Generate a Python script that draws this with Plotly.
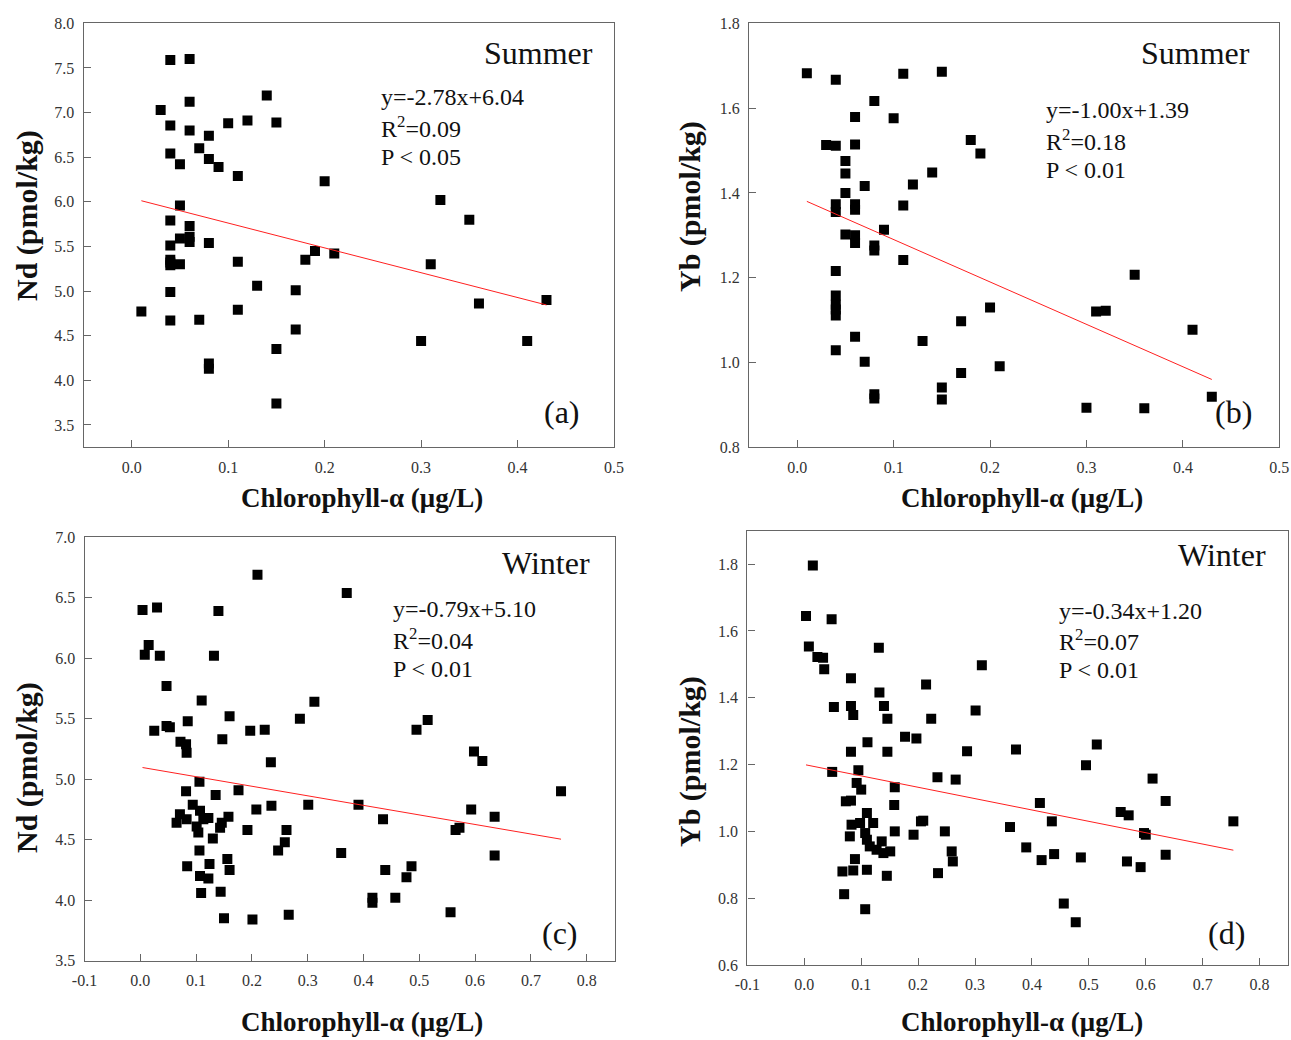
import plotly.graph_objects as go

# ---------------- data ----------------
# (a) Summer Nd vs Chlorophyll-a
a_x = [0.04, 0.06, 0.03, 0.06, 0.14, 0.04, 0.06, 0.08, 0.10, 0.12, 0.15, 0.07, 0.04, 0.08,
       0.05, 0.09, 0.11, 0.20, 0.05, 0.04, 0.06, 0.05, 0.06, 0.06, 0.08, 0.04, 0.04, 0.04,
       0.05, 0.04, 0.11, 0.18, 0.19, 0.21, 0.13, 0.17, 0.04, 0.01, 0.11, 0.04, 0.07, 0.17,
       0.15, 0.08, 0.08, 0.15, 0.32, 0.35, 0.31, 0.36, 0.43, 0.30, 0.41]
a_y = [7.59, 7.60, 7.03, 7.12, 7.19, 6.855, 6.80, 6.74, 6.88, 6.91, 6.89, 6.60, 6.54, 6.48,
       6.42, 6.39, 6.29, 6.23, 5.96, 5.79, 5.73, 5.59, 5.61, 5.55, 5.54, 5.51, 5.35, 5.29,
       5.30, 5.32, 5.33, 5.35, 5.45, 5.42, 5.06, 5.01, 4.99, 4.77, 4.79, 4.67, 4.68, 4.57,
       4.35, 4.19, 4.13, 3.74, 6.02, 5.80, 5.30, 4.86, 4.90, 4.44, 4.44]

# (b) Summer Yb vs Chlorophyll-a
b_x = [0.01, 0.04, 0.11, 0.15, 0.08, 0.06, 0.10, 0.03, 0.04, 0.06, 0.18, 0.19, 0.05, 0.05,
       0.14, 0.07, 0.12, 0.05, 0.04, 0.04, 0.06, 0.06, 0.11, 0.09, 0.05, 0.06, 0.06, 0.08,
       0.08, 0.11, 0.04, 0.04, 0.04, 0.04, 0.04, 0.20, 0.17, 0.06, 0.13, 0.04, 0.07, 0.21,
       0.17, 0.15, 0.15, 0.08, 0.08, 0.35, 0.31, 0.32, 0.41, 0.43, 0.30, 0.36]
b_y = [1.682, 1.667, 1.681, 1.686, 1.617, 1.579, 1.576, 1.513, 1.511, 1.514, 1.525, 1.493,
       1.475, 1.446, 1.448, 1.416, 1.420, 1.400, 1.373, 1.355, 1.373, 1.360, 1.370, 1.313,
       1.302, 1.300, 1.282, 1.276, 1.264, 1.242, 1.216, 1.158, 1.136, 1.111, 1.125, 1.130,
       1.097, 1.061, 1.051, 1.029, 1.002, 0.991, 0.975, 0.941, 0.913, 0.925, 0.915, 1.207,
       1.120, 1.122, 1.077, 0.919, 0.893, 0.892]

# (c) Winter Nd vs Chlorophyll-a
c_x = [0.004, 0.03, 0.14, 0.21, 0.37, 0.015, 0.008, 0.035, 0.132, 0.047, 0.11, 0.312, 0.286,
       0.16, 0.025, 0.047, 0.053, 0.085, 0.197, 0.223, 0.147, 0.072, 0.082, 0.083, 0.234,
       0.106, 0.082, 0.176, 0.135, 0.208, 0.235, 0.301, 0.094, 0.071, 0.107, 0.065, 0.083,
       0.113, 0.122, 0.101, 0.104, 0.158, 0.146, 0.143, 0.13, 0.192, 0.262, 0.259, 0.247,
       0.106, 0.084, 0.124, 0.156, 0.16, 0.107, 0.122, 0.109, 0.144, 0.15, 0.201, 0.266,
       0.36, 0.495, 0.515, 0.598, 0.613, 0.754, 0.391, 0.435, 0.593, 0.635, 0.565, 0.572,
       0.635, 0.439, 0.486, 0.477, 0.416, 0.416, 0.457, 0.556]
c_y = [6.40, 6.42, 6.39, 6.69, 6.54, 6.11, 6.03, 6.02, 6.02, 5.77, 5.65, 5.64, 5.50,
       5.52, 5.40, 5.44, 5.43, 5.48, 5.40, 5.41, 5.33, 5.31, 5.29, 5.22, 5.14,
       4.98, 4.90, 4.91, 4.87, 4.75, 4.78, 4.79, 4.79, 4.71, 4.74, 4.64, 4.67,
       4.67, 4.68, 4.61, 4.56, 4.69, 4.64, 4.60, 4.51, 4.58, 4.58, 4.48, 4.41,
       4.41, 4.28, 4.30, 4.34, 4.25, 4.20, 4.18, 4.06, 4.07, 3.85, 3.84, 3.88,
       4.39, 5.41, 5.49, 5.23, 5.15, 4.90, 4.79, 4.67, 4.75, 4.69, 4.58, 4.60,
       4.37, 4.25, 4.28, 4.19, 4.02, 3.98, 4.02, 3.90]

# (d) Winter Yb vs Chlorophyll-a
d_x = [0.015, 0.003, 0.048, 0.008, 0.131, 0.023, 0.033, 0.035, 0.082, 0.312, 0.214, 0.132,
       0.052, 0.082, 0.086, 0.14, 0.146, 0.223, 0.301, 0.177, 0.197, 0.111, 0.082, 0.146,
       0.286, 0.049, 0.095, 0.092, 0.10, 0.234, 0.266, 0.159, 0.073, 0.082, 0.158, 0.11,
       0.205, 0.209, 0.083, 0.098, 0.121, 0.08, 0.107, 0.11, 0.115, 0.127, 0.136, 0.139,
       0.151, 0.159, 0.192, 0.247, 0.259, 0.261, 0.089, 0.086, 0.067, 0.11, 0.145, 0.235,
       0.07, 0.107, 0.372, 0.514, 0.495, 0.612, 0.414, 0.635, 0.556, 0.57, 0.435, 0.754,
       0.3615, 0.597, 0.60, 0.39, 0.417, 0.439, 0.486, 0.567, 0.591, 0.635, 0.456, 0.477]
d_y = [1.796, 1.645, 1.635, 1.553, 1.55, 1.522, 1.52, 1.485, 1.458, 1.497, 1.44, 1.416,
       1.372, 1.375, 1.348, 1.375, 1.337, 1.337, 1.362, 1.283, 1.278, 1.267, 1.238, 1.238,
       1.24, 1.178, 1.183, 1.145, 1.125, 1.162, 1.155, 1.132, 1.09, 1.092, 1.079, 1.055,
       1.03, 1.032, 1.02, 1.025, 1.025, 0.985, 0.995, 0.975, 0.955, 0.945, 0.97, 0.935,
       0.94, 1.0, 0.99, 1.0, 0.94, 0.91, 0.917, 0.883, 0.88, 0.885, 0.867, 0.875,
       0.812, 0.767, 1.245, 1.26, 1.198, 1.158, 1.085, 1.091, 1.058, 1.048, 1.03, 1.03,
       1.013, 0.995, 0.99, 0.952, 0.914, 0.932, 0.922, 0.91, 0.893, 0.93, 0.784, 0.728]

# regression (slope, intercept) as reported in each panel
fit_a = (-2.78, 6.04)
fit_b = (-1.00, 1.39)
fit_c = (-0.79, 5.10)
fit_d = (-0.34, 1.20)

seasons = ["Summer", "Summer", "Winter", "Winter"]
panel_tags = ["(a)", "(b)", "(c)", "(d)"]
stats_r2 = ["0.09", "0.18", "0.04", "0.07"]
stats_p = ["P < 0.05", "P < 0.01", "P < 0.01", "P < 0.01"]
y_titles = ["Nd (pmol/kg)", "Yb (pmol/kg)", "Nd (pmol/kg)", "Yb (pmol/kg)"]
x_title = "Chlorophyll-α (μg/L)"

# tick values
xt_summer = [0.0, 0.1, 0.2, 0.3, 0.4, 0.5]
xt_winter = [-0.1, 0.0, 0.1, 0.2, 0.3, 0.4, 0.5, 0.6, 0.7, 0.8]
yt_a = [3.5, 4.0, 4.5, 5.0, 5.5, 6.0, 6.5, 7.0, 7.5, 8.0]
yt_b = [0.8, 1.0, 1.2, 1.4, 1.6, 1.8]
yt_c = [3.5, 4.0, 4.5, 5.0, 5.5, 6.0, 6.5, 7.0]
yt_d = [0.6, 0.8, 1.0, 1.2, 1.4, 1.6, 1.8]

# ---------------- layout helpers ----------------
W, H = 1291, 1040
def fx(p):
    return p / W
def fy(p):
    return 1 - p / H
def lab(v):
    return f"{v:.1f}".replace("\u2212", "-")

SERIF = "Liberation Serif, Times New Roman, serif"
AXCOL = "#666666"
TXT = "#111111"
TICKFONT = dict(family=SERIF, size=16, color="#333333")

panels = [
    dict(x=a_x, y=a_y, fit=fit_a, dom_x=(83.5, 614), dom_y=(23.3, 447.3),
         xr=[-0.05, 0.5], yr=[3.25, 8.0], xt=xt_summer, yt=yt_a,
         season=(538, 53), stats=(379, 97, 127, 157), tag=(562, 412),
         xtitle=(362, 498), ytitle=(27, 216)),
    dict(x=b_x, y=b_y, fit=fit_b, dom_x=(749, 1279.3), dom_y=(23.3, 447.3),
         xr=[-0.05, 0.5], yr=[0.8, 1.8], xt=xt_summer, yt=yt_b,
         season=(1195, 53), stats=(1044, 110, 140, 170), tag=(1233, 412),
         xtitle=(1022, 498), ytitle=(690, 207)),
    dict(x=c_x, y=c_y, fit=fit_c, dom_x=(84.5, 614.6), dom_y=(537.3, 960.7),
         xr=[-0.1, 0.85], yr=[3.5, 7.0], xt=xt_winter, yt=yt_c,
         season=(546, 563), stats=(391, 609, 639, 669), tag=(560, 933),
         xtitle=(362, 1022), ytitle=(27, 768)),
    dict(x=d_x, y=d_y, fit=fit_d, dom_x=(747.4, 1288), dom_y=(530.7, 965),
         xr=[-0.1, 0.85], yr=[0.6, 1.9], xt=xt_winter, yt=yt_d,
         season=(1222, 555), stats=(1057, 611, 640, 670), tag=(1226, 933),
         xtitle=(1022, 1022), ytitle=(690, 762)),
]

fig = go.Figure()
annotations = []
layout_axes = {}

for i, p in enumerate(panels):
    n = i + 1
    xa = "x" if n == 1 else f"x{n}"
    ya = "y" if n == 1 else f"y{n}"
    # scatter points
    fig.add_trace(go.Scatter(
        x=p["x"], y=p["y"], mode="markers", xaxis=xa, yaxis=ya,
        marker=dict(symbol="square", size=10, color="black", line=dict(width=0)),
        showlegend=False, hoverinfo="x+y"))
    # regression line across data range
    slope, icpt = p["fit"]
    x0, x1 = min(p["x"]), max(p["x"])
    fig.add_trace(go.Scatter(
        x=[x0, x1], y=[slope * x0 + icpt, slope * x1 + icpt], mode="lines",
        xaxis=xa, yaxis=ya, line=dict(color="#ff2020", width=1),
        showlegend=False, hoverinfo="skip"))

    common = dict(showline=True, linecolor=AXCOL, linewidth=1.3, mirror=True,
                  ticks="inside", ticklen=7, tickcolor=AXCOL, tickwidth=1,
                  showgrid=False, zeroline=False, tickfont=TICKFONT,
                  ticklabelstandoff=5, automargin=False)
    layout_axes["xaxis" if n == 1 else f"xaxis{n}"] = dict(
        domain=[fx(p["dom_x"][0]), fx(p["dom_x"][1])], range=p["xr"],
        tickmode="array", tickvals=p["xt"], ticktext=[lab(v) for v in p["xt"]],
        anchor=ya, **common)
    layout_axes["yaxis" if n == 1 else f"yaxis{n}"] = dict(
        domain=[fy(p["dom_y"][1]), fy(p["dom_y"][0])], range=p["yr"],
        tickmode="array", tickvals=p["yt"], ticktext=[lab(v) for v in p["yt"]],
        anchor=xa, **common)

    # texts
    sx, sy = p["season"]
    annotations.append(dict(text=seasons[i], x=fx(sx), y=fy(sy), xref="paper", yref="paper",
                            showarrow=False, xanchor="center", yanchor="middle",
                            font=dict(family=SERIF, size=32, color=TXT)))
    tx, t1, t2, t3 = p["stats"]
    eq = f"y={p['fit'][0]:.2f}x+{p['fit'][1]:.2f}"
    for txt, yy in [(eq, t1), (f"R<sup>2</sup>={stats_r2[i]}", t2), (stats_p[i], t3)]:
        annotations.append(dict(text=txt, x=fx(tx), y=fy(yy), xref="paper", yref="paper",
                                showarrow=False, xanchor="left", yanchor="middle",
                                font=dict(family=SERIF, size=24, color=TXT)))
    gx, gy = p["tag"]
    annotations.append(dict(text=panel_tags[i], x=fx(gx), y=fy(gy), xref="paper", yref="paper",
                            showarrow=False, xanchor="center", yanchor="middle",
                            font=dict(family=SERIF, size=32, color=TXT)))
    ax_, ay_ = p["xtitle"]
    annotations.append(dict(text=f"<b>{x_title}</b>", x=fx(ax_), y=fy(ay_), xref="paper",
                            yref="paper", showarrow=False, xanchor="center", yanchor="middle",
                            font=dict(family=SERIF, size=27, color=TXT)))
    bx_, by_ = p["ytitle"]
    annotations.append(dict(text=f"<b>{y_titles[i]}</b>", x=fx(bx_), y=fy(by_), xref="paper",
                            yref="paper", showarrow=False, xanchor="center", yanchor="middle",
                            textangle=-90,
                            font=dict(family=SERIF, size=30, color=TXT)))

fig.update_layout(
    width=W, height=H, margin=dict(l=0, r=0, t=0, b=0, autoexpand=False),
    paper_bgcolor="white", plot_bgcolor="white",
    annotations=annotations, **layout_axes)

fig.write_html("out.html")
